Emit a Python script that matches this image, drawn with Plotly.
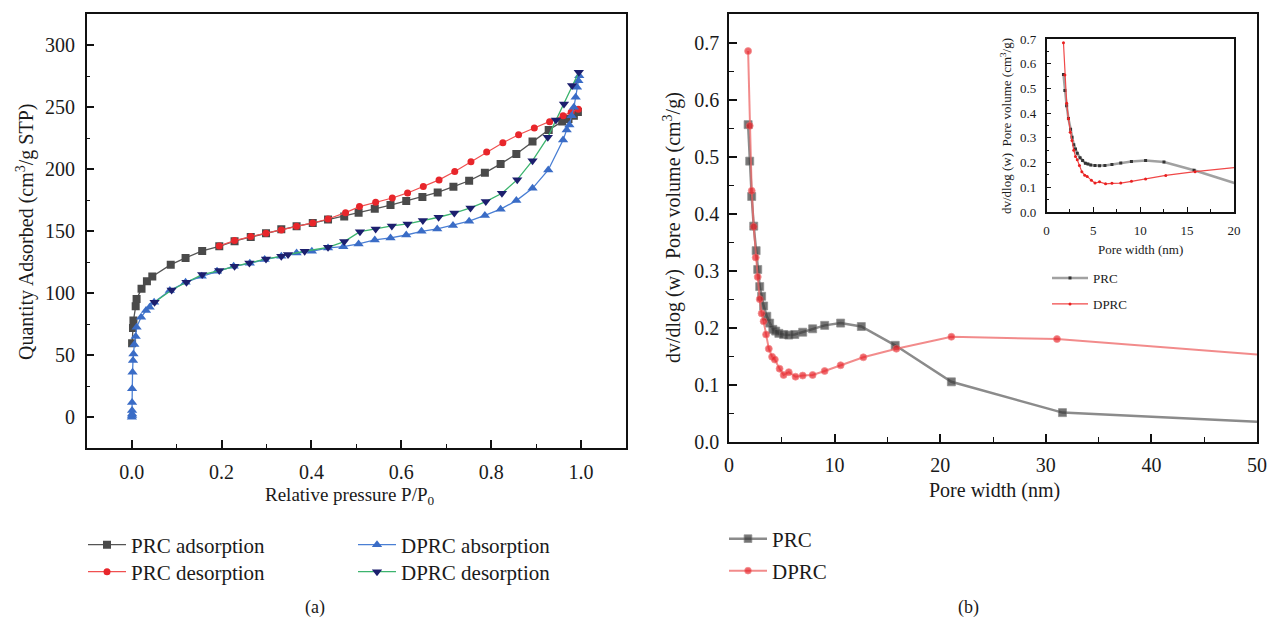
import plotly.graph_objects as go

# ---------------- (a) isotherms ----------------
prc_ads_x = [0.001,0.003,0.004,0.009,0.011,0.022,0.034,0.046,0.087,0.12,0.157,0.195,0.229,0.265,0.299,
             0.333,0.367,0.403,0.437,0.473,0.505,0.541,0.576,0.611,0.647,0.681,0.716,0.751,0.786,0.821,
             0.856,0.892,0.928,0.958,0.972,0.984,0.993]
prc_ads_y = [59.6,72,77.9,89.4,95.4,103.5,109.6,113.4,123,128.4,134.1,137.8,141.9,145.3,148.3,
             151.5,154,156.5,159.3,161.9,164.8,168,171,174.2,177.6,181.2,185.8,190.6,197,204.2,
             212.2,222.2,231.6,238.3,240.4,243.1,246]

prc_des_x = [0.195,0.229,0.265,0.299,0.333,0.367,0.403,0.437,0.476,0.507,0.543,0.58,0.614,0.649,0.684,
             0.719,0.755,0.79,0.826,0.861,0.896,0.93,0.96,0.978,0.994]
prc_des_y = [138.1,142.4,145.6,148.3,150.9,153.9,156.6,159.8,164.9,169.8,173.2,176.7,180.8,186,191.3,
             198,206,213.8,221.2,227.7,233.2,238.2,243.1,245.8,248.3]

dprc_ads_x = [0.0005,0.001,0.001,0.001,0.001,0.001,0.002,0.003,0.004,0.006,0.009,0.011,0.021,0.032,0.04,
              0.05,0.085,0.12,0.156,0.19,0.227,0.263,0.296,0.333,0.367,0.401,0.437,0.471,0.505,0.541,
              0.576,0.611,0.645,0.68,0.715,0.751,0.786,0.821,0.856,0.892,0.927,0.96,0.968,0.974,0.979,
              0.984,0.988,0.991,0.994,0.996]
dprc_ads_y = [0,1.5,2.7,5.4,12,22.9,36.3,45.7,51,58.6,65,72.5,80.6,86,88.6,
              92.7,102.1,108.8,113.6,117.6,121.7,124.1,127.1,129.7,132.4,133.8,136.5,137.5,139.7,142.9,
              144.5,146.9,149.9,151.8,154.6,158,162.7,167.7,174.6,184.5,199.3,223.5,231.6,235.6,243.1,
              249.8,257.9,265.9,271.3,275.3]

dprc_des_x = [0.051,0.089,0.122,0.157,0.195,0.229,0.262,0.299,0.333,0.348,0.385,0.437,0.473,0.508,0.543,
              0.579,0.614,0.648,0.683,0.718,0.754,0.788,0.824,0.858,0.892,0.926,0.944,0.962,0.98,0.995]
dprc_des_y = [92.7,102.6,108.8,115,118.2,121.7,124.4,127.6,129.7,131.1,133.8,137,141.6,149.6,151.8,
              154.2,155.8,158.5,161.2,164.6,168.7,173.8,180.5,191.5,206.8,225.6,239.6,252.5,267.3,278]

# ---------------- (b) pore size distribution ----------------
prc_w = [1.81,1.96,2.15,2.34,2.57,2.72,2.91,3.09,3.28,3.58,3.85,4.15,4.42,4.72,5.17,5.66,6.23,6.98,
         7.92,9.06,10.57,12.53,15.74,21.06,31.58,50]
prc_v = [0.556,0.492,0.43,0.378,0.335,0.302,0.272,0.255,0.238,0.22,0.208,0.197,0.194,0.19,0.188,0.187,
         0.188,0.192,0.198,0.204,0.208,0.202,0.169,0.105,0.051,0.035]
dprc_w = [1.81,1.96,2.15,2.34,2.53,2.72,2.91,3.09,3.28,3.51,3.77,4.08,4.34,4.79,5.17,5.66,6.3,6.98,
          7.92,9.06,10.57,12.72,15.85,21.06,31.06,50]
dprc_v = [0.685,0.554,0.44,0.377,0.323,0.289,0.25,0.225,0.211,0.188,0.163,0.149,0.144,0.128,0.117,0.122,
          0.114,0.116,0.117,0.124,0.134,0.148,0.163,0.184,0.18,0.153]

W, H = 1269, 620
FONT = "Liberation Serif"
INK = "#1a1a1a"

fig = go.Figure()

# (a)
fig.add_trace(go.Scatter(x=prc_ads_x, y=prc_ads_y, name="PRC adsorption", mode="lines+markers",
                         line=dict(color="#555555", width=1.3),
                         marker=dict(symbol="square", size=8, color="#4a4a4a"),
                         xaxis="x", yaxis="y", legend="legend"))
fig.add_trace(go.Scatter(x=prc_des_x, y=prc_des_y, name="PRC desorption", mode="lines+markers",
                         line=dict(color="#f05050", width=1.2),
                         marker=dict(symbol="circle", size=7, color="#e8262b"),
                         xaxis="x", yaxis="y", legend="legend2"))
fig.add_trace(go.Scatter(x=dprc_ads_x, y=dprc_ads_y, name="DPRC absorption", mode="lines+markers",
                         line=dict(color="#4a7fd4", width=1.3),
                         marker=dict(symbol="triangle-up", size=9, color="#3a6cc6"),
                         xaxis="x", yaxis="y", legend="legend3"))
fig.add_trace(go.Scatter(x=dprc_des_x, y=dprc_des_y, name="DPRC desorption", mode="lines+markers",
                         line=dict(color="#3cb46e", width=1.3),
                         marker=dict(symbol="triangle-down", size=9, color="#1c1f6e"),
                         xaxis="x", yaxis="y", legend="legend4"))

# (b) main
sizes_prc = [8] * (len(prc_w) - 1) + [0]
sizes_dprc = [7] * (len(dprc_w) - 1) + [0]
fig.add_trace(go.Scatter(x=prc_w, y=prc_v, name="PRC", mode="lines+markers",
                         line=dict(color="rgba(100,100,100,0.75)", width=2.5),
                         marker=dict(symbol="square", size=sizes_prc, color="#3a3a3a"),
                         xaxis="x2", yaxis="y2", legend="legend5"))
fig.add_trace(go.Scatter(x=dprc_w, y=dprc_v, name="DPRC", mode="lines+markers",
                         line=dict(color="rgba(238,100,100,0.75)", width=2),
                         marker=dict(symbol="circle", size=sizes_dprc, color="#e8242b"),
                         xaxis="x2", yaxis="y2", legend="legend6"))
# (b) inset
fig.add_trace(go.Scatter(x=prc_w, y=prc_v, name="PRC", mode="lines+markers",
                         line=dict(color="rgba(130,130,130,0.75)", width=2.5),
                         marker=dict(symbol="square", size=3, color="#333333"),
                         xaxis="x3", yaxis="y3", legend="legend7"))
fig.add_trace(go.Scatter(x=dprc_w, y=dprc_v, name="DPRC", mode="lines+markers",
                         line=dict(color="#f04848", width=1.2),
                         marker=dict(symbol="circle", size=3, color="#e82020"),
                         xaxis="x3", yaxis="y3", legend="legend8"))

def px_x(p):
    return p / W

def px_y(p):
    return 1 - p / H

def axis(size, **kw):
    d = dict(showline=True, linecolor="#111111", linewidth=1.5, mirror=True,
             ticks="inside", tickcolor="#111111", showgrid=False, zeroline=False,
             automargin=False, tickfont=dict(family=FONT, size=size, color=INK))
    d.update(kw)
    return d

def minor(vals, ln, w):
    return dict(tickvals=vals, ticklen=ln, tickwidth=w, ticks="inside", tickcolor="#111111")

fig.update_layout(
    template="none",
    width=W, height=H, autosize=False,
    margin=dict(l=0, r=0, t=0, b=0, pad=0, autoexpand=False),
    paper_bgcolor="white", plot_bgcolor="white",
    font=dict(family=FONT, color=INK),
    xaxis=axis(20, domain=[px_x(86.7), px_x(626)], range=[-0.1, 1.1],
               tickvals=[0, 0.2, 0.4, 0.6, 0.8, 1.0], tickformat=".1f", ticklen=9, tickwidth=1.5,
               anchor="y", minor=minor([-0.1, 0.1, 0.3, 0.5, 0.7, 0.9, 1.1], 5, 1.3), ticklabelstandoff=5),
    yaxis=axis(20, domain=[px_y(448.3), px_y(14)], range=[-25, 325],
               tickvals=[0, 50, 100, 150, 200, 250, 300], ticklen=8, tickwidth=1.5, anchor="x",
               minor=minor([25, 75, 125, 175, 225, 275], 4, 1.3), ticklabelstandoff=6),
    xaxis2=axis(20, domain=[px_x(729), px_x(1257)], range=[0, 50],
                tickvals=[0, 10, 20, 30, 40, 50], ticklen=8, tickwidth=1.5, anchor="y2",
                minor=minor([5, 15, 25, 35, 45], 5, 1.3), ticklabelstandoff=5),
    yaxis2=axis(20, domain=[px_y(441.7), px_y(14)], range=[0, 0.75],
                tickvals=[0, 0.1, 0.2, 0.3, 0.4, 0.5, 0.6, 0.7], tickformat=".1f", ticklen=8,
                tickwidth=1.5, anchor="x2",
                minor=minor([0.05, 0.15, 0.25, 0.35, 0.45, 0.55, 0.65], 5, 1.3), ticklabelstandoff=4),
    xaxis3=axis(13, domain=[px_x(1046.5), px_x(1234)], range=[0, 20],
                tickvals=[0, 5, 10, 15, 20], ticklen=5, tickwidth=1.2, anchor="y3",
                minor=minor([2.5, 7.5, 12.5, 17.5], 3, 1), ticklabelstandoff=6),
    yaxis3=axis(13, domain=[px_y(212), px_y(39)], range=[0, 0.7],
                tickvals=[0, 0.1, 0.2, 0.3, 0.4, 0.5, 0.6, 0.7], tickformat=".1f", ticklen=5,
                tickwidth=1.2, anchor="x3",
                minor=minor([0.05, 0.15, 0.25, 0.35, 0.45, 0.55, 0.65], 3, 1), ticklabelstandoff=6),
)

def leg(xpx, ypx, size, iw):
    return dict(x=px_x(xpx), y=px_y(ypx), xanchor="left", yanchor="middle",
                bgcolor="rgba(0,0,0,0)", borderwidth=0, itemwidth=iw,
                font=dict(family=FONT, size=size, color=INK))

fig.update_layout(
    showlegend=True,
    legend=leg(83, 545, 21, 38),
    legend2=leg(83, 572, 21, 38),
    legend3=leg(353, 545, 21, 38),
    legend4=leg(353, 572, 21, 38),
    legend5=leg(724, 539, 21, 38),
    legend6=leg(724, 571, 21, 38),
    legend7=leg(1047, 278, 13, 36),
    legend8=leg(1047, 304, 13, 36),
)

annos = [
    dict(text="Quantity Adsorbed (cm<sup>3</sup>/g STP)", x=px_x(25), y=px_y(232), textangle=-90, size=20),
    dict(text="Relative pressure P/P<sub>0</sub>", x=px_x(350), y=px_y(496), textangle=0, size=19),
    dict(text="dv/dlog (w)  Pore volume (cm<sup>3</sup>/g)", x=px_x(673), y=px_y(228), textangle=-90, size=20),
    dict(text="Pore width (nm)", x=px_x(994), y=px_y(490), textangle=0, size=20),
    dict(text="dv/dlog (w)  Pore volume (cm<sup>3</sup>/g)", x=px_x(1006), y=px_y(126), textangle=-90, size=13),
    dict(text="Pore width (nm)", x=px_x(1140), y=px_y(249), textangle=0, size=13),
    dict(text="(a)", x=px_x(315), y=px_y(607), textangle=0, size=18),
    dict(text="(b)", x=px_x(968), y=px_y(607), textangle=0, size=18),
]
for a in annos:
    fig.add_annotation(text=a["text"], x=a["x"], y=a["y"], xref="paper", yref="paper",
                       xanchor="center", yanchor="middle", showarrow=False, textangle=a["textangle"],
                       font=dict(family=FONT, size=a["size"], color=INK))

fig.write_html("out.html", config={"displayModeBar": False},
               post_script="document.body.style.margin='0';document.body.style.overflow='hidden';")
